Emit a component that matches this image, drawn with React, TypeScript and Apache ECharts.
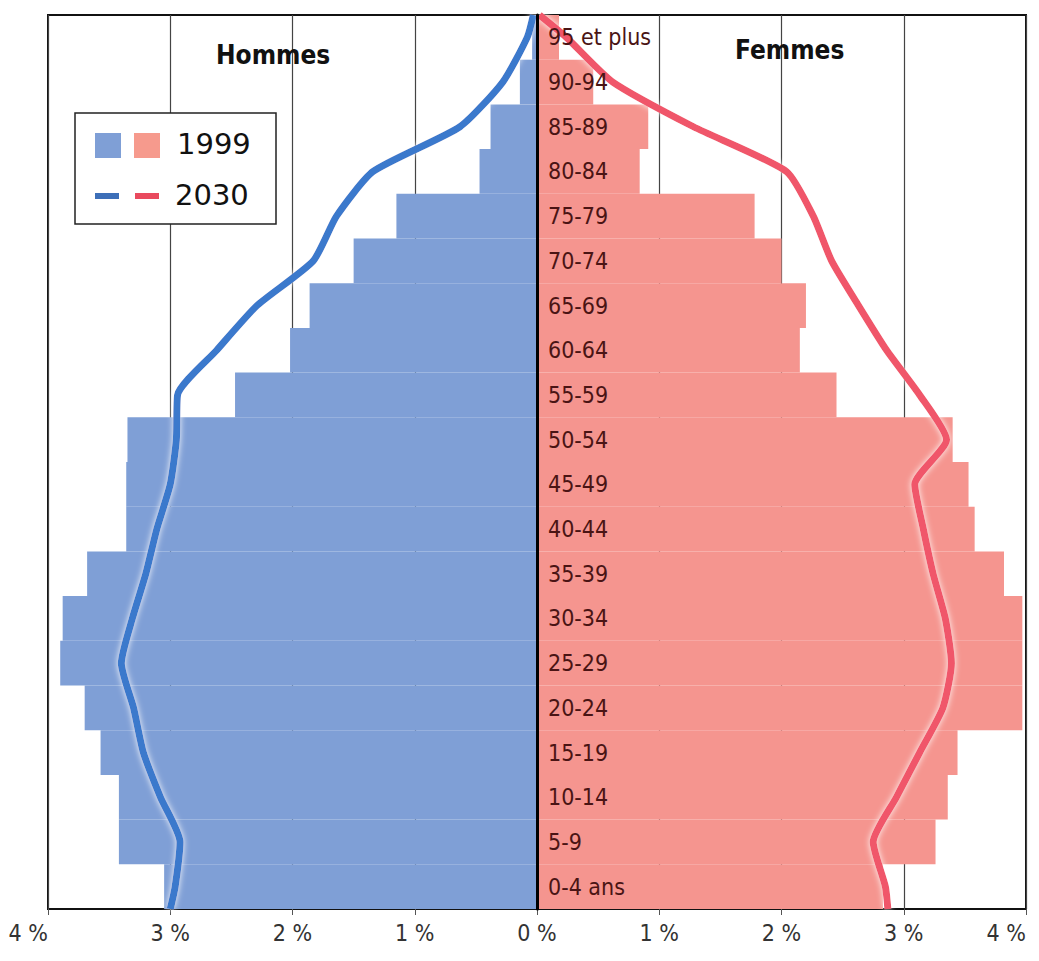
import React, { useEffect, useRef } from "react";
import * as echarts from "echarts";

// Age groups, bottom to top
const ageGroups = [
  "0-4 ans", "5-9", "10-14", "15-19", "20-24", "25-29", "30-34", "35-39",
  "40-44", "45-49", "50-54", "55-59", "60-64", "65-69", "70-74", "75-79",
  "80-84", "85-89", "90-94", "95 et plus",
];

// 1999 shares (% of total population)
const hommes1999 = [3.05, 3.42, 3.42, 3.57, 3.7, 3.9, 3.88, 3.68, 3.36, 3.36, 3.35, 2.47, 2.02, 1.86, 1.5, 1.15, 0.47, 0.38, 0.14, 0.04];
const femmes1999 = [2.83, 3.26, 3.36, 3.44, 3.97, 3.97, 3.97, 3.82, 3.58, 3.53, 3.4, 2.45, 2.15, 2.2, 2.0, 1.78, 0.84, 0.91, 0.46, 0.18];

// 2030 projection (%), read at the lower edge, each age group, and the upper edge
const hommes2030 = [3.0, 2.96, 2.92, 3.08, 3.22, 3.3, 3.4, 3.31, 3.2, 3.11, 3.0, 2.95, 2.94, 2.62, 2.29, 1.83, 1.64, 1.34, 0.63, 0.28, 0.08, 0.03];
const femmes2030 = [2.87, 2.85, 2.75, 2.94, 3.13, 3.32, 3.39, 3.34, 3.24, 3.16, 3.09, 3.35, 3.13, 2.86, 2.63, 2.41, 2.26, 2.04, 1.28, 0.62, 0.24, 0.02];

const xTicks = [-4, -3, -2, -1, 0, 1, 2, 3, 4];

const BLUE_BAR = "#7f9fd6";
const PINK_BAR = "#f5958f";
const BLUE_LINE = "#3a79cc";
const PINK_LINE = "#f0566b";
const NARROW = "'Liberation Sans Narrow', 'DejaVu Sans Condensed', sans-serif";

export default function App() {
  const ref = useRef<HTMLDivElement>(null);

  useEffect(() => {
    if (!ref.current) return;
    const chart = echarts.init(ref.current, undefined, { renderer: "svg" });

    // positions on the hidden value axis: lower edge, band centres, upper edge
    const pos = [0, ...ageGroups.map((_, i) => i + 0.5), ageGroups.length];

    const option: any = {
      animation: false,
      backgroundColor: "#ffffff",
      grid: {
        left: 48,
        right: 13,
        top: 15,
        bottom: 52,
        outerBoundsMode: "none",
        containLabel: false,
        show: true,
        borderColor: "#111",
        borderWidth: 2,
        backgroundColor: "transparent",
      },
      xAxis: {
        type: "value",
        min: xTicks[0],
        max: xTicks[xTicks.length - 1],
        interval: 1,
        axisLine: { show: false },
        axisTick: { show: true, length: 6, lineStyle: { color: "#555", width: 1 } },
        axisLabel: {
          formatter: (v: number) => `${Math.abs(v)} %`,
          fontSize: 23,
          color: "#333",
          fontFamily: NARROW,
          margin: 12,
          alignMinLabel: "right",
          alignMaxLabel: "right",
        },
        splitLine: { show: true, lineStyle: { color: "#444", width: 1.2 } },
      },
      yAxis: [
        {
          type: "category",
          data: ageGroups,
          position: "right",
          offset: -489,
          z: 10,
          axisLine: { show: true, onZero: false, lineStyle: { color: "#000", width: 3 } },
          axisTick: { show: false },
          axisLabel: {
            margin: 11,
            align: "left",
            fontSize: 23,
            color: "#4a1414",
            fontFamily: NARROW,
          },
          splitLine: { show: false },
        },
        {
          type: "value",
          min: 0,
          max: ageGroups.length,
          show: false,
        },
      ],
      series: [
        {
          name: "Hommes 1999",
          type: "bar",
          stack: "pyr",
          barWidth: "100%",
          data: hommes1999.map((v) => -v),
          itemStyle: { color: BLUE_BAR },
          z: 2,
        },
        {
          name: "Femmes 1999",
          type: "bar",
          stack: "pyr",
          barWidth: "100%",
          data: femmes1999,
          itemStyle: { color: PINK_BAR },
          z: 2,
        },
        {
          name: "Hommes 2030",
          type: "line",
          yAxisIndex: 1,
          data: hommes2030.map((v, i) => [-v, pos[i]]),
          showSymbol: false,
          smooth: 0.2,
          lineStyle: {
            color: BLUE_LINE,
            width: 7,
            shadowColor: "rgba(255,255,255,0.95)",
            shadowBlur: 6,
          },
          z: 5,
        },
        {
          name: "Femmes 2030",
          type: "line",
          yAxisIndex: 1,
          data: femmes2030.map((v, i) => [v, pos[i]]),
          showSymbol: false,
          smooth: 0.2,
          lineStyle: {
            color: PINK_LINE,
            width: 7,
            shadowColor: "rgba(255,255,255,0.95)",
            shadowBlur: 6,
          },
          z: 5,
        },
      ],
      graphic: [
        {
          type: "text",
          left: 216,
          top: 42,
          z: 20,
          style: { text: "Hommes", fontSize: 26, fontWeight: "bold", fill: "#111", fontFamily: "'DejaVu Sans Condensed', sans-serif" },
        },
        {
          type: "text",
          left: 735,
          top: 37,
          z: 20,
          style: { text: "Femmes", fontSize: 26, fontWeight: "bold", fill: "#111", fontFamily: "'DejaVu Sans Condensed', sans-serif" },
        },
        {
          type: "rect",
          shape: { x: 75, y: 113, width: 201, height: 111 },
          z: 20,
          style: { fill: "#fff", stroke: "#222", lineWidth: 1.5 },
        },
        { type: "rect", shape: { x: 95, y: 133, width: 26, height: 25 }, z: 21, style: { fill: BLUE_BAR } },
        { type: "rect", shape: { x: 134, y: 133, width: 26, height: 25 }, z: 21, style: { fill: "#f69a8d" } },
        { type: "rect", shape: { x: 95, y: 193, width: 24, height: 6 }, z: 21, style: { fill: "#3d6fb8" } },
        { type: "rect", shape: { x: 135, y: 193, width: 24, height: 6 }, z: 21, style: { fill: "#e94a5e" } },
        {
          type: "text",
          left: 177,
          top: 129,
          z: 21,
          style: { text: "1999", fontSize: 29, fill: "#111", fontFamily: "'DejaVu Sans', sans-serif" },
        },
        {
          type: "text",
          left: 175,
          top: 180,
          z: 21,
          style: { text: "2030", fontSize: 29, fill: "#111", fontFamily: "'DejaVu Sans', sans-serif" },
        },
      ],
    };

    chart.setOption(option);
    return () => chart.dispose();
  }, []);

  return (
    <div
      ref={ref}
      style={{ position: "fixed", left: 0, top: 0, width: 1039, height: 961, background: "#fff" }}
    />
  );
}
